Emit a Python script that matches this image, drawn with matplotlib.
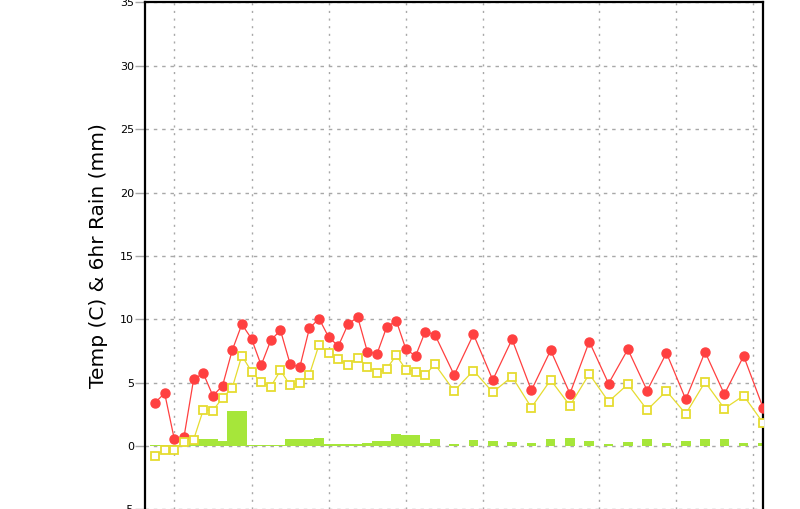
# temperature / dewpoint / 6hr rain meteogram, redrawn from a screenshot

import matplotlib
matplotlib.use("Agg")
import matplotlib.pyplot as plt

plt.rcParams["lines.scale_dashes"] = False

# time steps (6-hourly for the first 30, then 12-hourly)
steps = list(range(0, 30)) + list(range(31, 64, 2))

temp = [3.42, 4.16, 0.53, 0.69, 5.26, 5.74, 3.95, 4.76, 7.55, 9.6,
        8.47, 6.37, 8.34, 9.13, 6.47, 6.21, 9.29, 10.05, 8.58, 7.89,
        9.6, 10.18, 7.45, 7.26, 9.37, 9.89, 7.63, 7.1, 9.02, 8.79,
        5.6, 8.81, 5.21, 8.42, 4.39, 7.55, 4.13, 8.24, 4.92, 7.63,
        4.37, 7.34, 3.68, 7.42, 4.08, 7.1, 3.03]

dewpt = [-0.76, -0.34, -0.29, 0.34, 0.5, 2.84, 2.79, 3.81, 4.58, 7.13,
         5.87, 5.02, 4.68, 5.97, 4.79, 5.0, 5.63, 8.0, 7.31, 6.84,
         6.39, 6.97, 6.26, 5.74, 6.08, 7.16, 6.02, 5.87, 5.6, 6.45,
         4.34, 5.95, 4.24, 5.47, 3.03, 5.21, 3.18, 5.68, 3.5, 4.87,
         2.84, 4.34, 2.53, 5.05, 2.95, 3.97, 1.84]

rain = [0.1, 0.04, 0.04, 0.04, 0.5, 0.55, 0.55, 0.37, 2.76, 2.76,
        0.04, 0.04, 0.04, 0.04, 0.53, 0.53, 0.53, 0.66, 0.12, 0.12,
        0.12, 0.12, 0.24, 0.42, 0.42, 0.95, 0.87, 0.87, 0.21, 0.55,
        0.13, 0.46, 0.38, 0.3, 0.22, 0.55, 0.64, 0.37, 0.13, 0.29,
        0.53, 0.21, 0.37, 0.53, 0.53, 0.21, 0.21]

grid_steps = [2, 10, 18, 26, 34, 46, 54, 62]
yticks = [-5, 0, 5, 10, 15, 20, 25, 30, 35]

fig = plt.figure(figsize=(8, 5.09), dpi=100)
ax = fig.add_axes([0.1817, -0.0006, 0.772, 0.9957])

grid_col = "#a8a8a8"
for g in grid_steps:
    ax.axvline(g, color=grid_col, lw=1.0, ls=(0, (1.5, 4)), zorder=0)
for t in yticks:
    ax.axhline(t, color=grid_col, lw=1.0, ls=(0, (2.5, 3.5)), zorder=0)

ax.bar(steps, rain, width=1.0, color="#a6e63a", edgecolor="none", zorder=1)

ax.plot(steps, temp, color="#ff4040", lw=0.9, marker="o", ms=6.5,
        mfc="#ff4040", mec="#ff4040", zorder=3)
ax.plot(steps, dewpt, color="#e6dc30", lw=0.9, marker="s", ms=6,
        mfc="white", mec="#e6dc30", mew=1.3, zorder=4)

ax.set_xlim(-1, 63)
ax.set_ylim(-5, 35)
ax.set_yticks(yticks)
ax.set_xticks([])

for side in ["left", "right", "top"]:
    ax.spines[side].set_linewidth(1.6)
    ax.spines[side].set_color("black")
ax.spines["bottom"].set_visible(False)

ax.tick_params(axis="y", direction="out", length=7, width=1, color=grid_col,
               labelsize=8, pad=1)
ax.set_ylabel("Temp (C) & 6hr Rain (mm)", fontsize=14.5)
ax.yaxis.set_label_coords(-0.060, 0.5)

fig.savefig("out.png", dpi=100)
